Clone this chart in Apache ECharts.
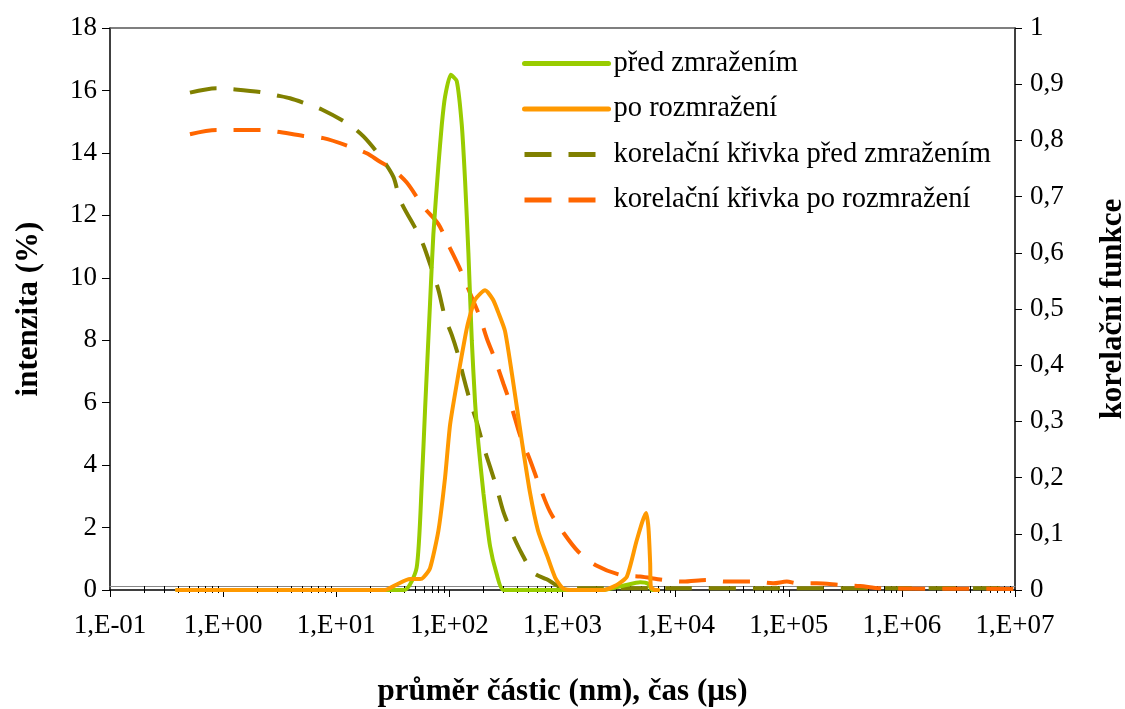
<!DOCTYPE html>
<html>
<head>
<meta charset="utf-8">
<script src="https://cdn.jsdelivr.net/npm/echarts@6/dist/echarts.min.js"></script>
<style>
  html, body { margin: 0; padding: 0; background: #fff; }
  #chart { width: 1125px; height: 709px; }
</style>
</head>
<body>
<div id="chart"></div>
<script>
// size distributions (x in nm, y in %)
const preX = [0.39, 40, 51.4, 57, 61, 67.5, 72.2, 80, 85.7, 91.6, 102.8, 116.2, 128.7, 137.7, 147.3, 157.8, 168.8, 180.4, 200, 229, 262.6, 300.5, 2285, 3573, 4853, 5715, 6195, 7000];
const preY = [0, 0, 0.72, 3.4, 5.8, 9.2, 11.4, 13.6, 14.9, 15.8, 16.5, 16.3, 14.9, 13.1, 10.8, 8.0, 6.0, 4.7, 3.1, 1.4, 0.5, 0, 0, 0.15, 0.25, 0.2, 0, 0];
const postX = [0.39, 27, 33.1, 44.9, 55.1, 58.9, 67.5, 80, 91.6, 101.5, 120, 137.7, 147.3, 168.8, 207, 243, 270, 310, 358, 397, 440, 517, 608, 731, 861, 1012, 1290, 2285, 3020, 3707, 4540, 5480, 5750, 5957, 6040, 6590, 7000];
const postY = [0, 0, 0.15, 0.35, 0.35, 0.4, 0.7, 1.9, 3.6, 5.3, 6.9, 8.1, 8.6, 9.3, 9.6, 9.3, 8.9, 8.3, 6.9, 5.8, 4.7, 3.1, 1.9, 1.1, 0.4, 0.05, 0, 0, 0.16, 0.43, 1.6, 2.47, 2.0, 0.86, 0.1, 0, 0];

// correlation curves (x in µs)
const corPreX = [0.509, 0.877, 1.225, 2.12, 2.98, 3.9, 5.3, 7.45, 12.8, 17.4, 25.2, 32, 36.7, 51.5, 58.9, 69.8, 80, 91.6, 105, 120, 133, 152.5, 174.6, 200, 229, 262, 300.5, 356.6, 436, 553, 726, 953, 1432, 10000, 100000, 1000000, 10000000];
const corPreY = [0.885, 0.893, 0.891, 0.886, 0.880, 0.875, 0.866, 0.855, 0.829, 0.807, 0.768, 0.735, 0.694, 0.639, 0.614, 0.571, 0.534, 0.485, 0.454, 0.417, 0.380, 0.336, 0.299, 0.256, 0.219, 0.182, 0.139, 0.102, 0.065, 0.031, 0.019, 0.006, 0.003, 0.003, 0.003, 0.003, 0.003];
const corPostX = [0.509, 0.877, 2.12, 2.98, 5.12, 7.69, 12.8, 18.6, 24.4, 31, 42, 58.9, 80, 101.5, 124.4, 152.5, 186.7, 214, 253.6, 300.5, 356.6, 421.8, 517.2, 634, 777, 1018, 1382, 2011, 3230, 4853, 7757, 11650, 18880, 28380, 48450, 72800, 96200, 118000, 177000, 284600, 427500, 642300, 10000000];
const corPostY = [0.811, 0.8185, 0.8185, 0.8155, 0.808, 0.804, 0.790, 0.777, 0.762, 0.750, 0.725, 0.682, 0.651, 0.608, 0.571, 0.528, 0.485, 0.448, 0.410, 0.367, 0.324, 0.275, 0.231, 0.182, 0.139, 0.102, 0.068, 0.043, 0.027, 0.024, 0.018, 0.015, 0.018, 0.015, 0.015, 0.012, 0.015, 0.012, 0.012, 0.009, 0.007, 0.003, 0.002];

const seriesNames = ["před zmražením", "po rozmražení", "korelační křivka před zmražením", "korelační křivka po rozmražení"];

// minor ticks 2..9 per decade
const minorTicks = [];
for (let e = -1; e < 7; e++) {
  for (let m = 2; m <= 9; m++) minorTicks.push(m * Math.pow(10, e));
}

const font = "'Liberation Serif', 'Times New Roman', serif";

function pairs(xs, ys) {
  return xs.map((x, i) => [x, ys[i]]);
}

function expLabel(v) {
  let e = Math.round(Math.log10(v));
  let s = Math.abs(e) < 10 ? "0" + Math.abs(e) : "" + Math.abs(e);
  return "1,E" + (e < 0 ? "-" : "+") + s;
}

let chart = echarts.init(document.getElementById("chart"));
let option = {
  animation: false,
  backgroundColor: "#fff",
  textStyle: { fontFamily: font },
  grid: { left: 110, right: 110, top: 28, bottom: 119, containLabel: false, outerBoundsMode: "none" },
  legend: {
    orient: "vertical",
    left: 517,
    top: 44,
    itemWidth: 84,
    itemHeight: 14,
    itemGap: 16.5,
    lineStyle: { width: 5 },
    itemStyle: { color: "transparent", borderColor: "transparent", borderWidth: 0, opacity: 0 },
    textStyle: { fontFamily: font, fontSize: 28.5, color: "#000" },
    data: seriesNames,
  },
  xAxis: [
    {
      type: "log",
      logBase: 10,
      min: 0.1,
      max: 10000000,
      position: "bottom",
      name: "průměr částic (nm), čas (µs)",
      nameLocation: "middle",
      nameGap: 86,
      nameTextStyle: { fontFamily: font, fontSize: 31, fontWeight: "bold", color: "#000" },
      axisLine: { show: true, onZero: false, lineStyle: { color: "#000", width: 1.5 } },
      axisTick: { show: true, length: 7, lineStyle: { color: "#000" } },
      axisLabel: { formatter: expLabel, fontFamily: font, fontSize: 27, color: "#000", margin: 22 },
      splitLine: { show: false },
    },
    {
      type: "log",
      logBase: 10,
      min: 0.1,
      max: 10000000,
      position: "bottom",
      offset: -4,
      axisLine: { show: true, onZero: false, lineStyle: { color: "#888", width: 1 } },
      axisTick: { show: true, length: 7, customValues: minorTicks, lineStyle: { color: "#000" } },
      axisLabel: { show: false },
      splitLine: { show: false },
    },
    {
      type: "log",
      logBase: 10,
      min: 0.1,
      max: 10000000,
      position: "top",
      axisLine: { show: true, onZero: false, lineStyle: { color: "#555", width: 1.5 } },
      axisTick: { show: false },
      axisLabel: { show: false },
      splitLine: { show: false },
    },
  ],
  yAxis: [
    {
      type: "value",
      min: 0,
      max: 18,
      interval: 2,
      name: "intenzita (%)",
      nameLocation: "middle",
      nameGap: 66,
      nameTextStyle: { fontFamily: font, fontSize: 31, fontWeight: "bold", color: "#000" },
      axisLine: { show: true, lineStyle: { color: "#000", width: 1.5 } },
      axisTick: { show: true, length: 8, lineStyle: { color: "#000" } },
      axisLabel: { fontFamily: font, fontSize: 27, color: "#000", margin: 13 },
      splitLine: { show: false },
    },
    {
      type: "value",
      min: 0,
      max: 1,
      interval: 0.1,
      position: "right",
      name: "korelační funkce",
      nameLocation: "middle",
      nameGap: 82,
      nameRotate: 90,
      nameTextStyle: { fontFamily: font, fontSize: 31, fontWeight: "bold", color: "#000" },
      axisLine: { show: true, lineStyle: { color: "#000", width: 1.5 } },
      axisTick: { show: true, length: 7, lineStyle: { color: "#000" } },
      axisLabel: {
        fontFamily: font,
        fontSize: 27,
        color: "#000",
        margin: 15,
        formatter: function (v) {
          if (v === 0) return "0";
          if (Math.abs(v - 1) < 1e-9) return "1";
          return v.toFixed(1).replace(".", ",");
        },
      },
      splitLine: { show: false },
    },
  ],
  series: [
    {
      name: seriesNames[2],
      type: "line",
      xAxisIndex: 0,
      yAxisIndex: 1,
      symbol: "none",
      smooth: 0.3,
      lineStyle: { color: "#808000", width: 4, type: [27, 17] },
      itemStyle: { color: "#808000" },
      data: pairs(corPreX, corPreY),
      z: 2,
    },
    {
      name: seriesNames[3],
      type: "line",
      xAxisIndex: 0,
      yAxisIndex: 1,
      symbol: "none",
      smooth: 0.3,
      lineStyle: { color: "#FF6600", width: 4, type: [27, 17] },
      itemStyle: { color: "#FF6600" },
      data: pairs(corPostX, corPostY),
      z: 2,
    },
    {
      name: seriesNames[0],
      type: "line",
      xAxisIndex: 0,
      yAxisIndex: 0,
      symbol: "none",
      smooth: 0.2,
      lineStyle: { color: "#99CC00", width: 4, cap: "round" },
      itemStyle: { color: "#99CC00" },
      data: pairs(preX, preY),
      z: 3,
    },
    {
      name: seriesNames[1],
      type: "line",
      xAxisIndex: 0,
      yAxisIndex: 0,
      symbol: "none",
      smooth: 0.2,
      lineStyle: { color: "#FF9900", width: 4, cap: "round" },
      itemStyle: { color: "#FF9900" },
      data: pairs(postX, postY),
      z: 4,
    },
  ],
};
chart.setOption(option);
</script>
</body>
</html>
